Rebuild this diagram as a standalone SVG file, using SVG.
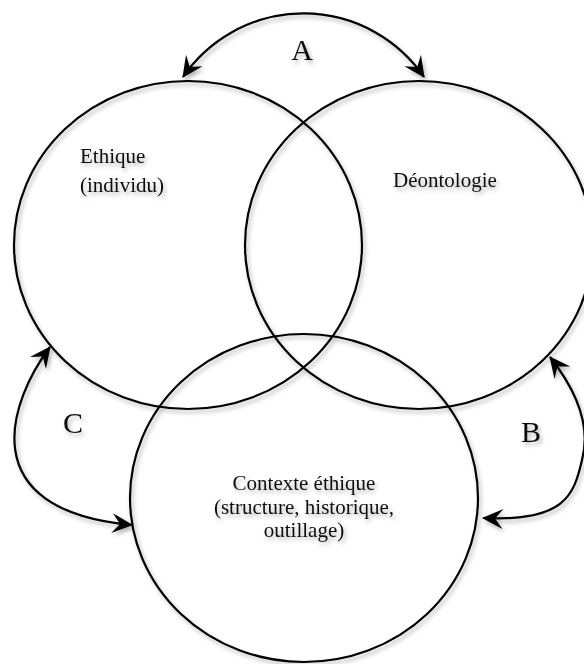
<svg xmlns="http://www.w3.org/2000/svg" width="584" height="664" viewBox="0 0 584 664">
<style>
.ring{fill:none;stroke:#000;stroke-width:2.2}
.arc{fill:none;stroke:#000;stroke-width:2.2;marker-start:url(#ah);marker-end:url(#ah)}
.t{font-family:"Liberation Serif","Times New Roman",serif;font-size:21px;fill:#111}
.lbl{font-family:"Liberation Serif","Times New Roman",serif;font-size:30px;fill:#111;text-anchor:middle}
.c{text-anchor:middle}
</style>
<defs>
<filter id="sh" x="-10%" y="-10%" width="130%" height="130%">
<feDropShadow dx="2" dy="3" stdDeviation="2" flood-color="#000" flood-opacity="0.3"/>
</filter>
<marker id="ah" markerUnits="userSpaceOnUse" viewBox="-22 -11 24 22" refX="0" refY="0" markerWidth="24" markerHeight="22" orient="auto-start-reverse">
<path d="M1,0 L-20,-10 L-12,0 L-20,10 Z" fill="#000"/>
</marker>
</defs>
<rect width="584" height="664" fill="#fff"/>
<g filter="url(#sh)">
<g id="node-ethique">
<ellipse class="ring" cx="188" cy="245" rx="174" ry="164"/>
<text class="t" x="80" y="163">Ethique</text>
<text class="t" x="80" y="192">(individu)</text>
</g>
<g id="node-deontologie">
<ellipse class="ring" cx="419" cy="245" rx="174" ry="164"/>
<text class="t" x="393" y="187">Déontologie</text>
</g>
<g id="node-contexte">
<ellipse class="ring" cx="304" cy="498" rx="174" ry="164"/>
<text class="t c" x="304" y="490">Contexte éthique</text>
<text class="t c" x="304" y="514">(structure, historique,</text>
<text class="t c" x="304" y="537">outillage)</text>
</g>
<g id="connectors">
<path id="conn-A" class="arc" d="M183,77 A146,146 0 0 1 424,77"/>
<path id="conn-B" class="arc" d="M550,357 C580,395 590,430 582,460 C574,495 565,522 483,518"/>
<path id="conn-C" class="arc" d="M50,347 C10,400 -30,510 132,525"/>
<text class="lbl" x="302" y="60">A</text>
<text class="lbl" x="531" y="442">B</text>
<text class="lbl" x="73" y="433">C</text>
</g>
</g>
</svg>
